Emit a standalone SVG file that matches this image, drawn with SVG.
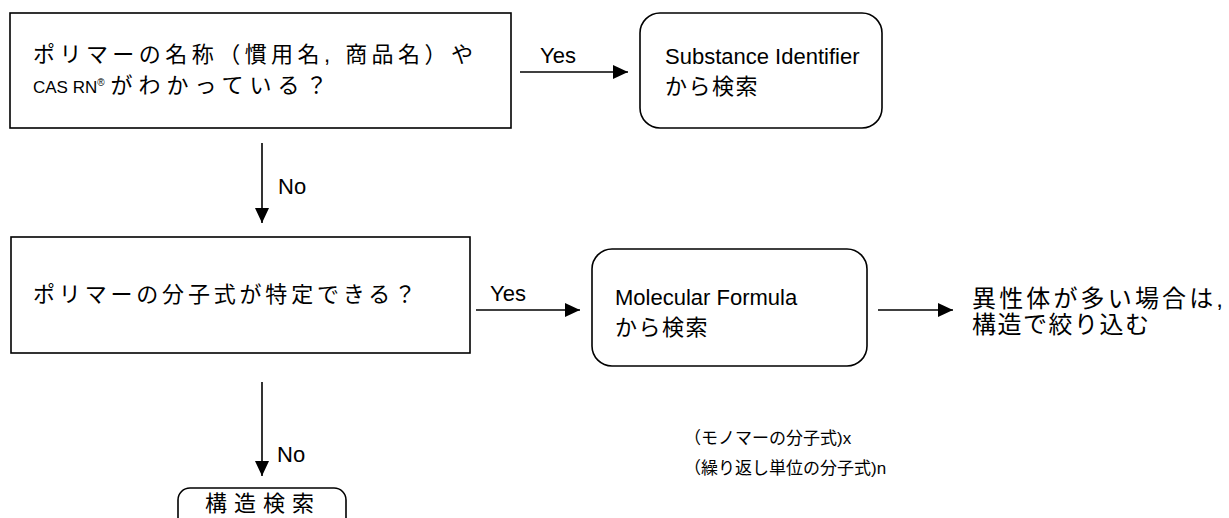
<svg xmlns="http://www.w3.org/2000/svg" width="1229" height="518" viewBox="0 0 1229 518">
<defs>
<marker id="ah" markerWidth="16" markerHeight="16" viewBox="0 0 16 16" refX="15" refY="8" orient="auto" markerUnits="userSpaceOnUse">
<path d="M0,1 L15,8 L0,15 Z" fill="#000"/>
</marker>
<style>
.box{fill:#fff;stroke:#000;stroke-width:1.6}
.t{font-family:'Liberation Sans','Noto Sans CJK JP',sans-serif;font-size:22px;fill:#000}
.s{font-family:'Liberation Sans','Noto Sans CJK JP',sans-serif;font-size:17px;fill:#000}
.c{stroke:#000;stroke-width:1.6;fill:none;marker-end:url(#ah)}
</style>
</defs>
<rect width="1229" height="518" fill="#fff"/>
<g id="connectors">
<line class="c" x1="520" y1="72" x2="628" y2="72"/>
<text class="t" x="540" y="63">Yes</text>
<line class="c" x1="262" y1="143" x2="262" y2="223"/>
<text class="t" x="278" y="194">No</text>
<line class="c" x1="476" y1="310" x2="580" y2="310"/>
<text class="t" x="490" y="301">Yes</text>
<line class="c" x1="878" y1="310" x2="953" y2="310"/>
<line class="c" x1="262" y1="382" x2="262" y2="476"/>
<text class="t" x="277" y="462">No</text>
</g>
<g id="q1">
<rect class="box" x="10" y="13" width="501" height="115"/>
<text class="t" x="33" y="62" textLength="440" lengthAdjust="spacing">ポリマーの名称（慣用名, 商品名）や</text>
<text class="t" x="33" y="93"><tspan style="font-size:17px">CAS RN</tspan><tspan style="font-size:10px" dy="-7">®</tspan><tspan dy="7" dx="6" letter-spacing="6">がわかっている？</tspan></text>
</g>
<g id="r1">
<rect class="box" x="640" y="13" width="242" height="115" rx="20"/>
<text class="t" x="665" y="64">Substance Identifier</text>
<text class="t" x="665" y="94" letter-spacing="1.5">から検索</text>
</g>
<g id="q2">
<rect class="box" x="11" y="237" width="459" height="116"/>
<text class="t" x="33" y="302" textLength="383" lengthAdjust="spacing">ポリマーの分子式が特定できる？</text>
</g>
<g id="r2">
<rect class="box" x="592" y="249" width="275" height="117" rx="20"/>
<text class="t" x="615" y="305">Molecular Formula</text>
<text class="t" x="615" y="335" letter-spacing="1.5">から検索</text>
</g>
<g id="note1">
<text class="t" x="972" y="307" style="font-size:24px" textLength="251" lengthAdjust="spacing">異性体が多い場合は,</text>
<text class="t" x="972" y="333" style="font-size:24px" letter-spacing="1.5">構造で絞り込む</text>
</g>
<g id="r3">
<rect class="box" x="178" y="488" width="168" height="50" rx="12"/>
<text class="t" x="205" y="511" letter-spacing="7">構造検索</text>
</g>
<g id="note2">
<text class="s" x="684" y="444">（モノマーの分子式)x</text>
<text class="s" x="684" y="474">（繰り返し単位の分子式)n</text>
</g>
</svg>
